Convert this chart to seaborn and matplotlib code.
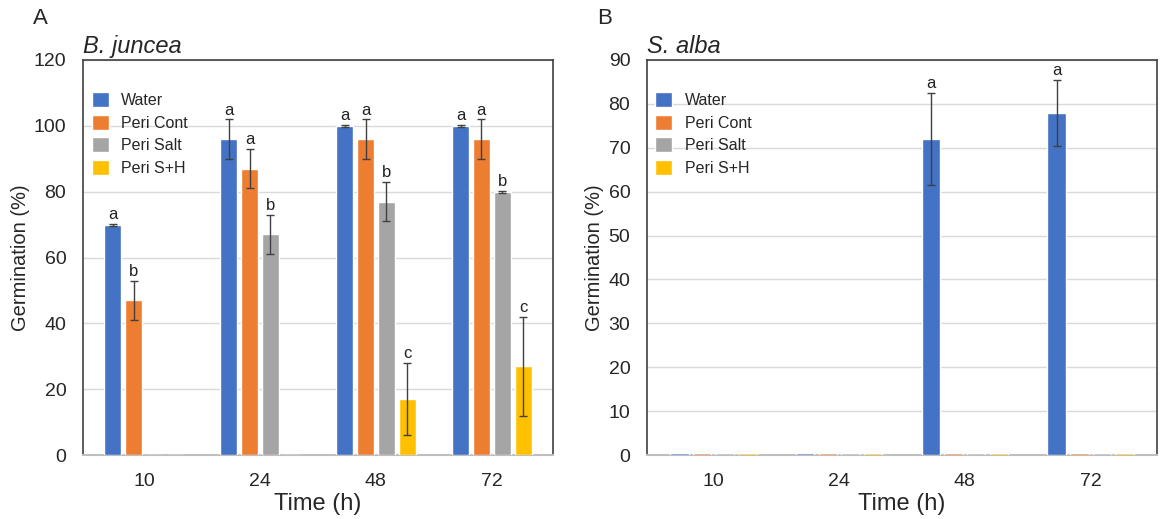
import matplotlib
matplotlib.use('Agg')
import matplotlib.pyplot as plt
from matplotlib.container import BarContainer
import seaborn as sns
import pandas as pd
import numpy as np

times = ['10', '24', '48', '72']
treatments = ['Water', 'Peri Cont', 'Peri Salt', 'Peri S+H']
colors = ['#4472C4', '#ED7D31', '#A5A5A5', '#FFC000']

# B. juncea, rows = treatment, cols = time
juncea_mean = [[70, 96, 100, 100],
               [47, 87, 96, 96],
               [0, 67, 77, 80],
               [0, 0, 17, 27]]
juncea_err = [[0.3, 6, 0.3, 0.3],
              [6, 6, 6, 6],
              [0, 6, 6, 0.3],
              [0, 0, 11, 15]]
juncea_letters = [['a', 'a', 'a', 'a'],
                  ['b', 'a', 'a', 'a'],
                  ['', 'b', 'b', 'b'],
                  ['', '', 'c', 'c']]

# S. alba
alba_mean = [[0.5, 0.5, 72, 78],
             [0.5, 0.5, 0.5, 0.5],
             [0.5, 0.5, 0.5, 0.5],
             [0.5, 0.5, 0.5, 0.5]]
alba_err = [[0, 0, 10.5, 7.5],
            [0, 0, 0, 0],
            [0, 0, 0, 0],
            [0, 0, 0, 0]]
alba_letters = [['', '', 'a', 'a'],
                ['', '', '', ''],
                ['', '', '', ''],
                ['', '', '', '']]

sns.set_style('white')
plt.rcParams['font.family'] = ['Liberation Sans', 'DejaVu Sans']

fig = plt.figure(figsize=(11.68, 5.19), dpi=100)
axA = fig.add_axes([83/1168, 1-455/519, 470/1168, 395/519])
axB = fig.add_axes([647/1168, 1-455/519, 510/1168, 395/519])


def make_df(mean):
    rows = []
    for i, t in enumerate(treatments):
        for j, tm in enumerate(times):
            rows.append({'Time': tm, 'Treatment': t, 'val': mean[i][j]})
    return pd.DataFrame(rows)


def draw(ax, mean, err, letters, ymax, ystep, title, lab_off):
    df = make_df(mean)
    sns.barplot(data=df, x='Time', y='val', hue='Treatment', order=times,
                hue_order=treatments, palette=colors, width=0.72, gap=0.18,
                errorbar=None, ax=ax, saturation=1, zorder=3)
    bars = [c for c in ax.containers if isinstance(c, BarContainer)]
    for i, cont in enumerate(bars):
        for j, bar in enumerate(cont):
            x = bar.get_x() + bar.get_width() / 2
            e = err[i][j]
            h = mean[i][j]
            if e > 0:
                ax.errorbar(x, h, yerr=e, color='#404040', lw=1, capsize=2.7,
                            capthick=1, zorder=4)
            if letters[i][j]:
                ax.text(x, h + e + lab_off, letters[i][j], ha='center',
                        va='bottom', fontsize=12, color='#222222')
    ax.set_ylim(0, ymax)
    ax.set_yticks(np.arange(0, ymax + 1, ystep))
    ax.grid(axis='y', color='#d9d9d9', lw=1, zorder=0)
    ax.set_axisbelow(True)
    for s in ['top', 'left', 'right']:
        ax.spines[s].set_color('#404040')
        ax.spines[s].set_linewidth(1.2)
    ax.spines['bottom'].set_color('#bfbfbf')
    ax.spines['bottom'].set_linewidth(1.5)
    ax.tick_params(axis='both', length=0, labelsize=14)
    ax.tick_params(axis='y', pad=12)
    ax.tick_params(axis='x', pad=13)
    ax.set_xlabel('Time (h)', fontsize=17, labelpad=2)
    ax.set_ylabel('Germination (%)', fontsize=14.5, labelpad=3)
    ax.set_title(title, fontsize=17, style='italic', loc='left', pad=5)
    ax.legend(loc='upper left', bbox_to_anchor=(-0.012, 0.955), frameon=False,
              fontsize=11.5, handlelength=1.05, handleheight=1.05,
              handletextpad=0.8, labelspacing=0.42)


draw(axA, juncea_mean, juncea_err, juncea_letters, 120, 20, 'B. juncea', 0.5)
draw(axB, alba_mean, alba_err, alba_letters, 90, 10, 'S. alba', 0.4)
fig.text(40/1168, 1-18/519, 'A', fontsize=16, ha='center', va='center')
fig.text(605/1168, 1-18/519, 'B', fontsize=16, ha='center', va='center')

fig.savefig('out.png', dpi=100)
